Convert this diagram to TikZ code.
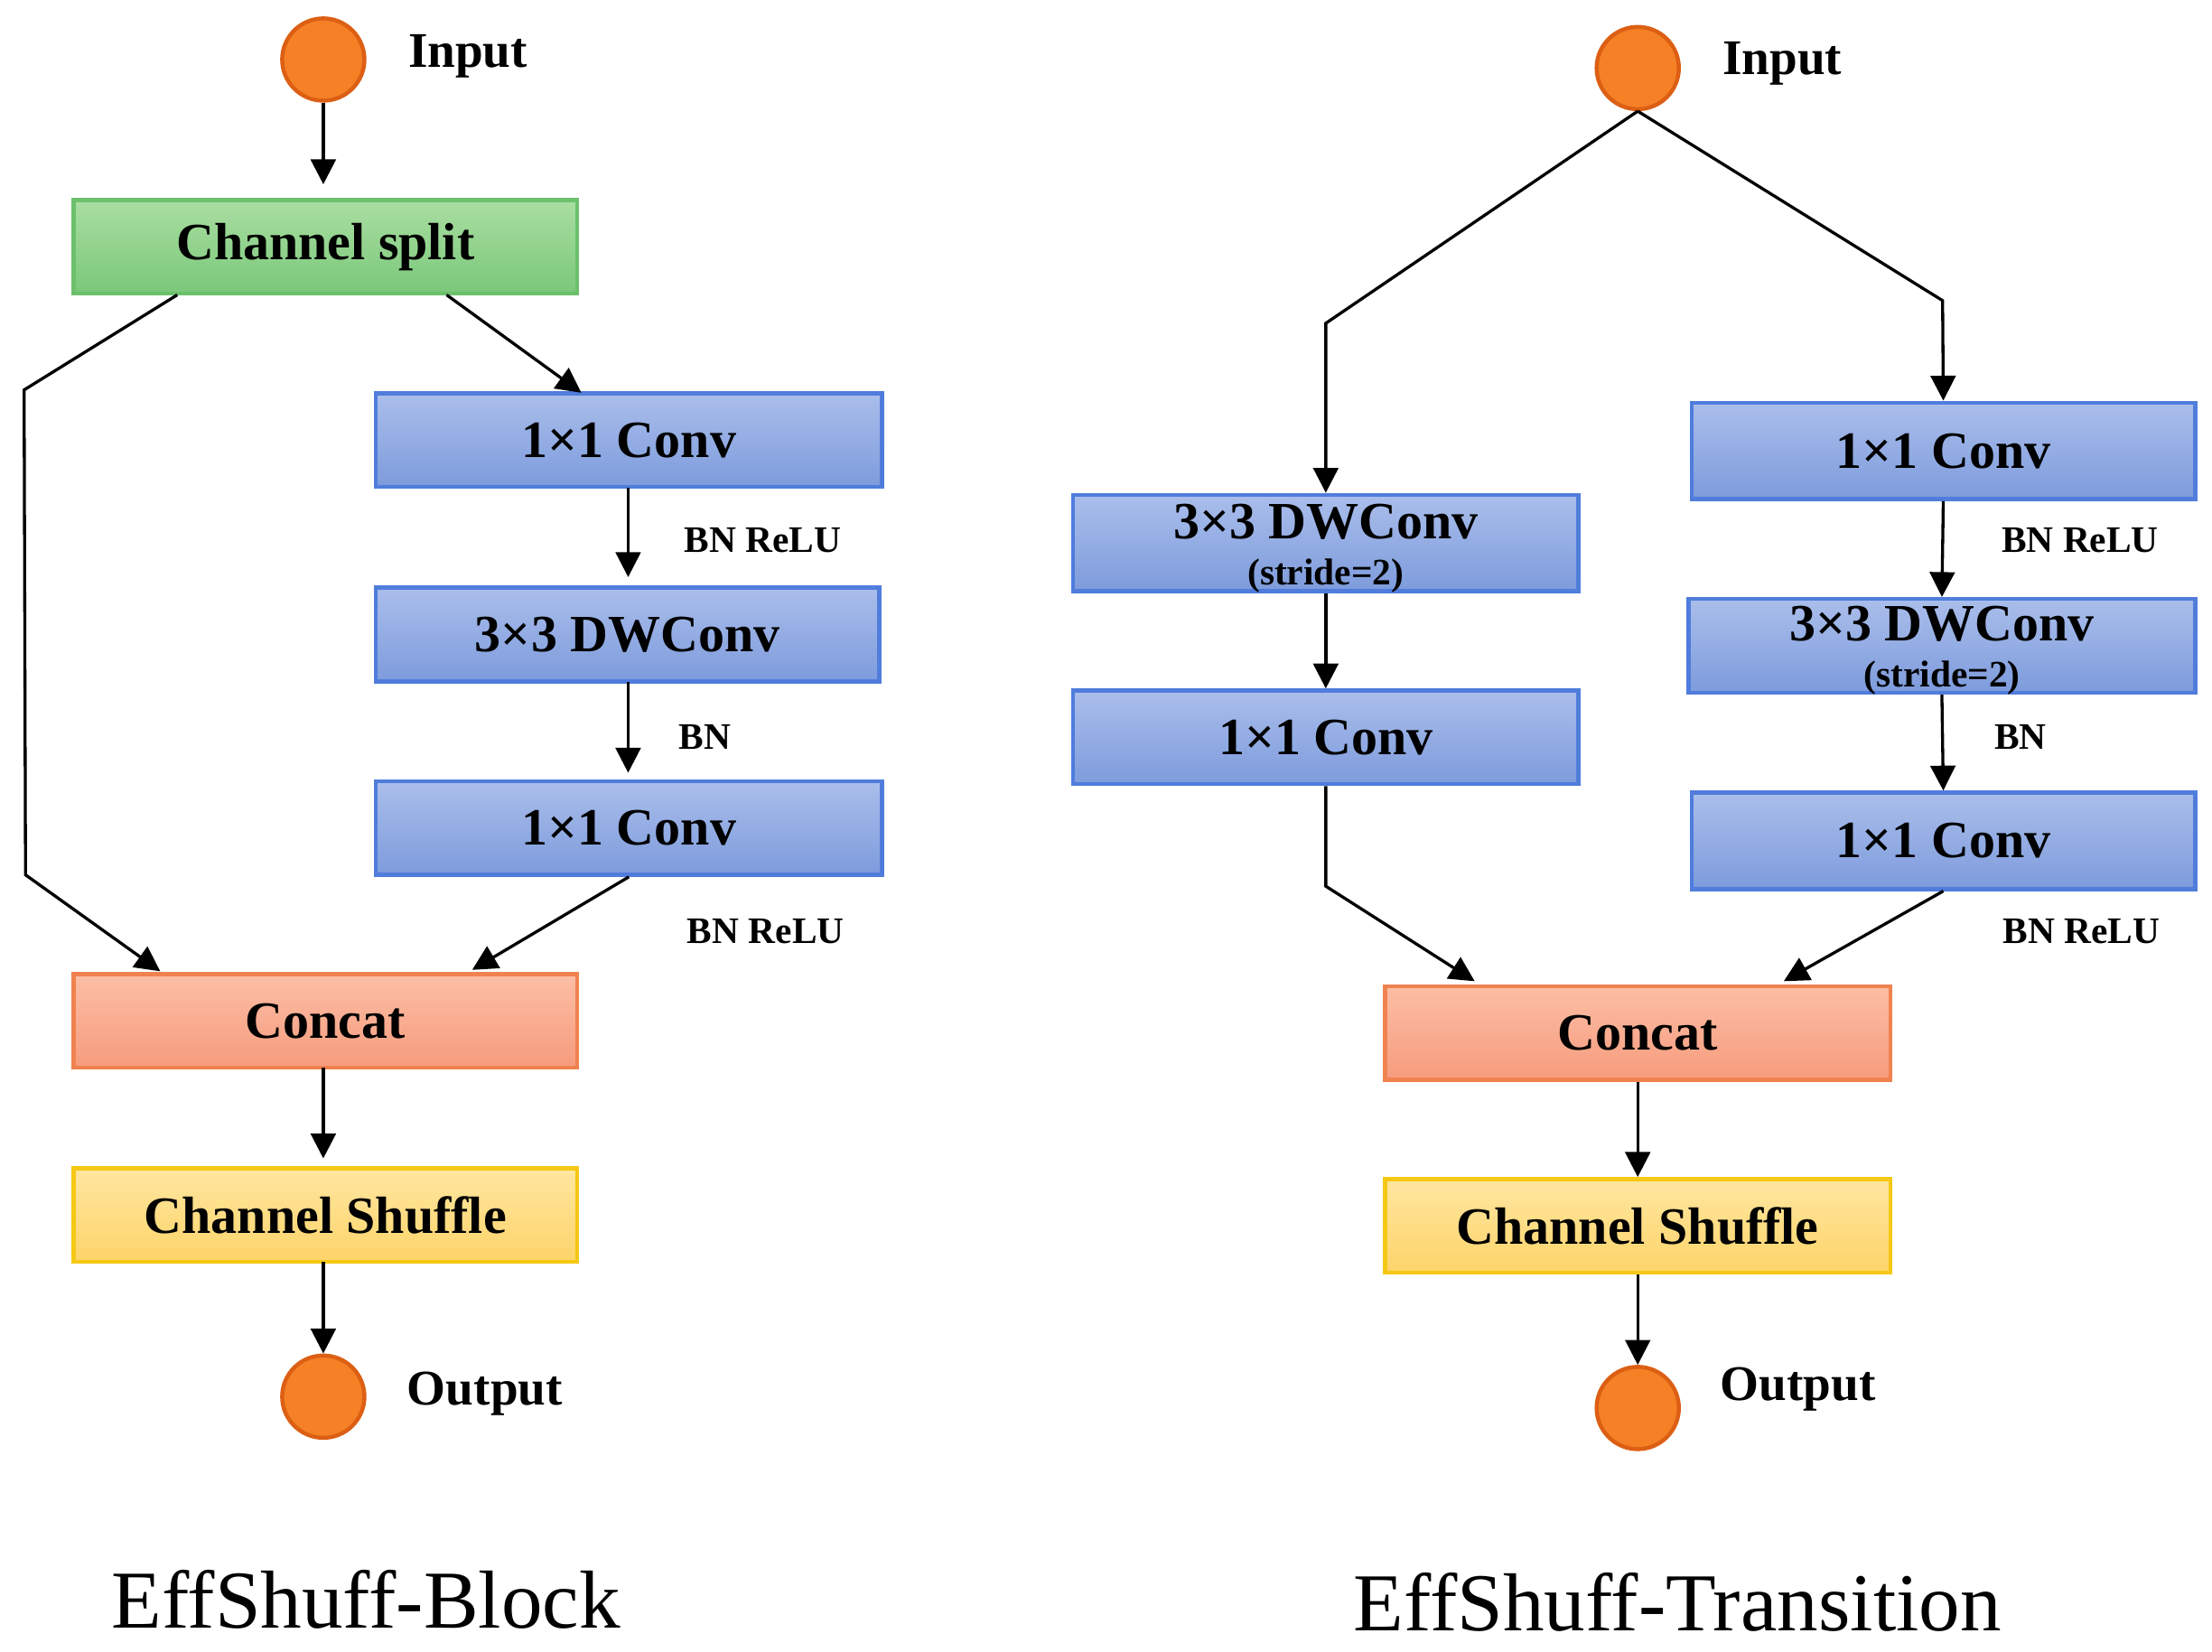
\documentclass[tikz,border=0pt]{standalone}
\usepackage{fontspec}
\setmainfont{Liberation Serif}
\usetikzlibrary{arrows.meta}
\definecolor{bT}{RGB}{170,190,235}\definecolor{bB}{RGB}{125,155,220}\definecolor{bD}{RGB}{80,125,220}
\definecolor{gT}{RGB}{170,222,162}\definecolor{gB}{RGB}{122,200,122}\definecolor{gD}{RGB}{108,192,108}
\definecolor{sT}{RGB}{252,190,165}\definecolor{sB}{RGB}{246,155,125}\definecolor{sD}{RGB}{240,130,80}
\definecolor{yT}{RGB}{255,230,160}\definecolor{yB}{RGB}{253,212,105}\definecolor{yD}{RGB}{245,200,20}
\definecolor{oF}{RGB}{245,128,37}\definecolor{oD}{RGB}{220,95,20}
\begin{document}
\begin{tikzpicture}[x=0.01cm,y=-0.01cm,
 box/.style={draw, line width=0.8pt, minimum height=0.66cm, inner sep=0pt, font=\fontsize{10.5}{12}\selectfont\bfseries},
 bbox/.style={box, top color=bT, bottom color=bB, draw=bD},
 gbox/.style={box, top color=gT, bottom color=gB, draw=gD},
 sbox/.style={box, top color=sT, bottom color=sB, draw=sD},
 ybox/.style={box, top color=yT, bottom color=yB, draw=yD},
 dot/.style={circle, draw=oD, line width=0.8pt, fill=oF, minimum size=0.58cm, inner sep=0pt},
 lab/.style={font=\fontsize{7.5}{9}\selectfont\bfseries},
 io/.style={font=\fontsize{10}{12}\selectfont\bfseries},
 ttl/.style={font=\fontsize{16.5}{20}\selectfont},
 arr/.style={-{Triangle[length=5pt,width=5pt]}, line width=0.6pt}]
\useasboundingbox (0,0) rectangle (1560,1165);
% Left
\node[dot] (lin) at (228,42) {};
\node[io] (linl) at (330,40) {Input};
\node[gbox, minimum width=3.55cm] (cs) at (229.5,174) {Channel split};
\node[bbox, minimum width=3.57cm] (c1) at (443.5,310.5) {1×1 Conv};
\node[lab] (l1) at (538,381) {BN ReLU};
\node[bbox, minimum width=3.55cm] (dw) at (442.5,447.5) {3×3 DWConv};
\node[lab] (l2) at (497,520) {BN};
\node[bbox, minimum width=3.57cm] (c2) at (443.5,584) {1×1 Conv};
\node[lab] (l3) at (540,657) {BN ReLU};
\node[sbox, minimum width=3.55cm] (cc) at (229.5,720) {Concat};
\node[ybox, minimum width=3.55cm] (sh) at (229.5,857) {Channel Shuffle};
\node[dot] (lout) at (228,985) {};
\node[io] (loutl) at (342,983) {Output};
\node[ttl] (t1) at (258,1128) {EffShuff-Block};
\coordinate (a0) at (125,208); \coordinate (a1) at (17,275); \coordinate (a2) at (18,617);
\coordinate (b0) at (315,208);
\draw[arr] (lin) -- (228,130);
\draw[arr] (a0) -- (a1) -- (a2) -- (113,685);
\draw[arr] (b0) -- (410,277);
\draw[arr] (443,344) -- (443,407);
\draw[arr] (443,481) -- (443,545);
\draw[arr] (c2.south) -- (333,684);
\draw[arr] (228,753) -- (228,817);
\draw[arr] (228,890) -- (lout);
% Right
\node[dot] (rin) at (1155,48) {};
\node[io] (rinl) at (1257,45) {Input};
\node[bbox, minimum width=3.56cm, minimum height=0.68cm] (rdw) at (935,383) {};
\node[font=\fontsize{10.5}{12}\selectfont\bfseries] (rdwt) at (935,368) {3×3 DWConv};
\node[lab] (rdws) at (935,406) {(stride=2)};
\node[bbox, minimum width=3.56cm] (rc0) at (935,520) {1×1 Conv};
\node[bbox, minimum width=3.55cm, minimum height=0.68cm] (rc1) at (1370.5,318) {1×1 Conv};
\node[lab] (r1) at (1467,381) {BN ReLU};
\node[bbox, minimum width=3.57cm] (rdw2) at (1369.5,455.5) {};
\node[font=\fontsize{10.5}{12}\selectfont\bfseries] (rdw2t) at (1369.5,440) {3×3 DWConv};
\node[lab] (rdw2s) at (1369.5,478) {(stride=2)};
\node[lab] (r2) at (1425,520) {BN};
\node[bbox, minimum width=3.55cm, minimum height=0.68cm] (rc2) at (1370.5,593) {1×1 Conv};
\node[lab] (r3) at (1468,657) {BN ReLU};
\node[sbox, minimum width=3.56cm] (rcc) at (1155,728.5) {Concat};
\node[ybox, minimum width=3.56cm] (rsh) at (1155,864.5) {Channel Shuffle};
\node[dot] (rout) at (1155,993) {};
\node[io] (routl) at (1268,980) {Output};
\node[ttl] (t2) at (1183,1130) {EffShuff-Transition};
\draw[arr] (rin.south) -- (935,228) -- (rdw.north);
\draw[arr] (rin.south) -- (1370,212) -- (rc1.north);
\draw[arr] (rdw.south) -- (rc0.north);
\draw[arr] (rc0.south) -- (935,625) -- (1040,692);
\draw[arr] (rc1.south) -- (rdw2.north);
\draw[arr] (rdw2.south) -- (rc2.north);
\draw[arr] (rc2.south) -- (1258,692);
\draw[arr] (rcc.south) -- (rsh.north);
\draw[arr] (rsh.south) -- (rout);
\end{tikzpicture}
\end{document}
